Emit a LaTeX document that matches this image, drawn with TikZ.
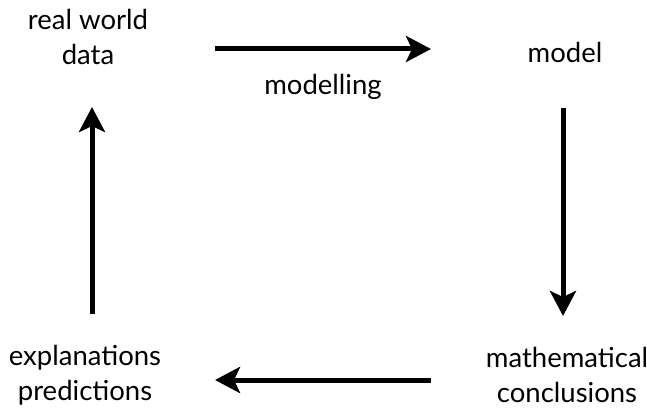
\documentclass[tikz,border=0pt]{standalone}
\usepackage{fontspec}
\setmainfont{Lato}
\usetikzlibrary{arrows.meta}

\begin{document}
\begin{tikzpicture}[
    x=1pt, y=1pt,
    line width=5pt,
    every node/.style={font=\fontsize{27.5}{35}\selectfont, align=center},
    flow/.style={-{Stealth[length=25pt, width=26pt, inset=6pt]}},
  ]
  \useasboundingbox (0,0) rectangle (647,413);

  % ---------- stages (corners) --------------------------------------------
  \node (rwd)   at (88, 376)  {real world\\data};
  \node (model) at (565, 361) {model};
  \node (math)  at (567, 38)  {mathematical\\conclusions};
  \node (expl)  at (85, 38)   {explanations\\predictions};

  % ---------- arrow ends --------------------------------------------------
  \coordinate (topL) at (215, 364);
  \coordinate (topR) at (431, 364);
  \coordinate (rgtT) at (563, 305);
  \coordinate (rgtB) at (563, 97);
  \coordinate (botR) at (431, 33);
  \coordinate (botL) at (215, 33);
  \coordinate (lftB) at (92, 99);
  \coordinate (lftT) at (92, 306);

  % ---------- cycle -------------------------------------------------------
  \draw[flow] (topL) -- (topR)
    node[midway, below=19pt] (mlab) {modelling};
  \draw[flow] (rgtT) -- (rgtB);
  \draw[flow] (botR) -- (botL);
  \draw[flow] (lftB) -- (lftT);

\end{tikzpicture}
\end{document}
